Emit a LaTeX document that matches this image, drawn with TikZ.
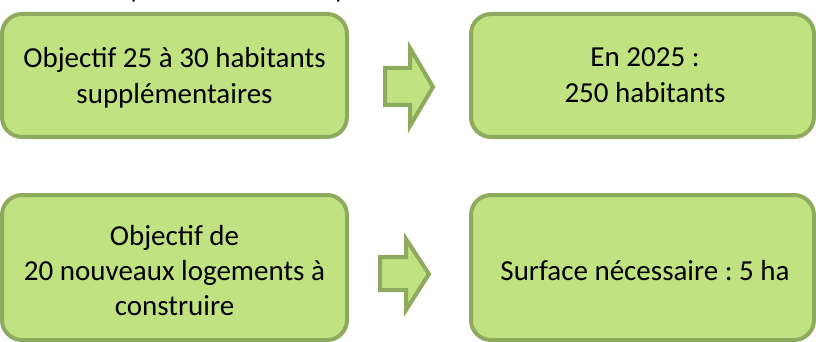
\documentclass[tikz,border=0pt]{standalone}
\usepackage{fontspec}
\setmainfont{Carlito}
\frenchspacing
\definecolor{boxfill}{RGB}{192,226,128}
\definecolor{boxline}{RGB}{141,170,94}
\tikzset{
  greenbox/.style={draw=boxline, fill=boxfill, line width=4pt, rounded corners=20pt, inner sep=0pt},
  blockarrow/.style={draw=boxline, fill=boxfill, line width=4pt, line join=miter},
  txt/.style={anchor=base, inner sep=0pt, font=\fontsize{29}{36}\selectfont, text=black}
}
\begin{document}
\begin{tikzpicture}[x=1pt,y=-1pt]
\useasboundingbox (0,0) rectangle (816,342);
% partially visible text line at the top (cut off by the page edge, as in the reference)
\node[txt] (pl) at (132,-1) {(};
\node[txt] (pr) at (340,-1) {)};
% boxes
\node[greenbox, minimum width=345pt, minimum height=123pt] (b1) at (174.5,75.5) {};
\node[greenbox, minimum width=343pt, minimum height=123pt] (b2) at (642.5,75.5) {};
\node[greenbox, minimum width=345pt, minimum height=145pt] (b3) at (174.5,267.5) {};
\node[greenbox, minimum width=343pt, minimum height=145pt] (b4) at (642.5,267.5) {};
% block arrows
\draw[blockarrow] (385,68) -- (410,68) -- (410,48) -- (433,87) -- (410,126) -- (410,105) -- (385,105) -- cycle;
\draw[blockarrow] (380,257) -- (406,257) -- (406,239) -- (429,274) -- (406,310) -- (406,290) -- (380,290) -- cycle;
% texts
\node[txt] (t1a) at (174.5,68) {Objectif 25 à 30 habitants};
\node[txt] (t1b) at (174.5,103.5) {supplémentaires};
\node[txt] (t2a) at (645,67) {En 2025 :};
\node[txt] (t2b) at (645,103) {250 habitants};
\node[txt] (t3a) at (174.5,245) {Objectif de};
\node[txt] (t3b) at (174.5,280) {20 nouveaux logements à};
\node[txt] (t3c) at (174.5,315) {construire};
\node[txt] (t4a) at (645,280) {Surface nécessaire : 5 ha};
\end{tikzpicture}
\end{document}
